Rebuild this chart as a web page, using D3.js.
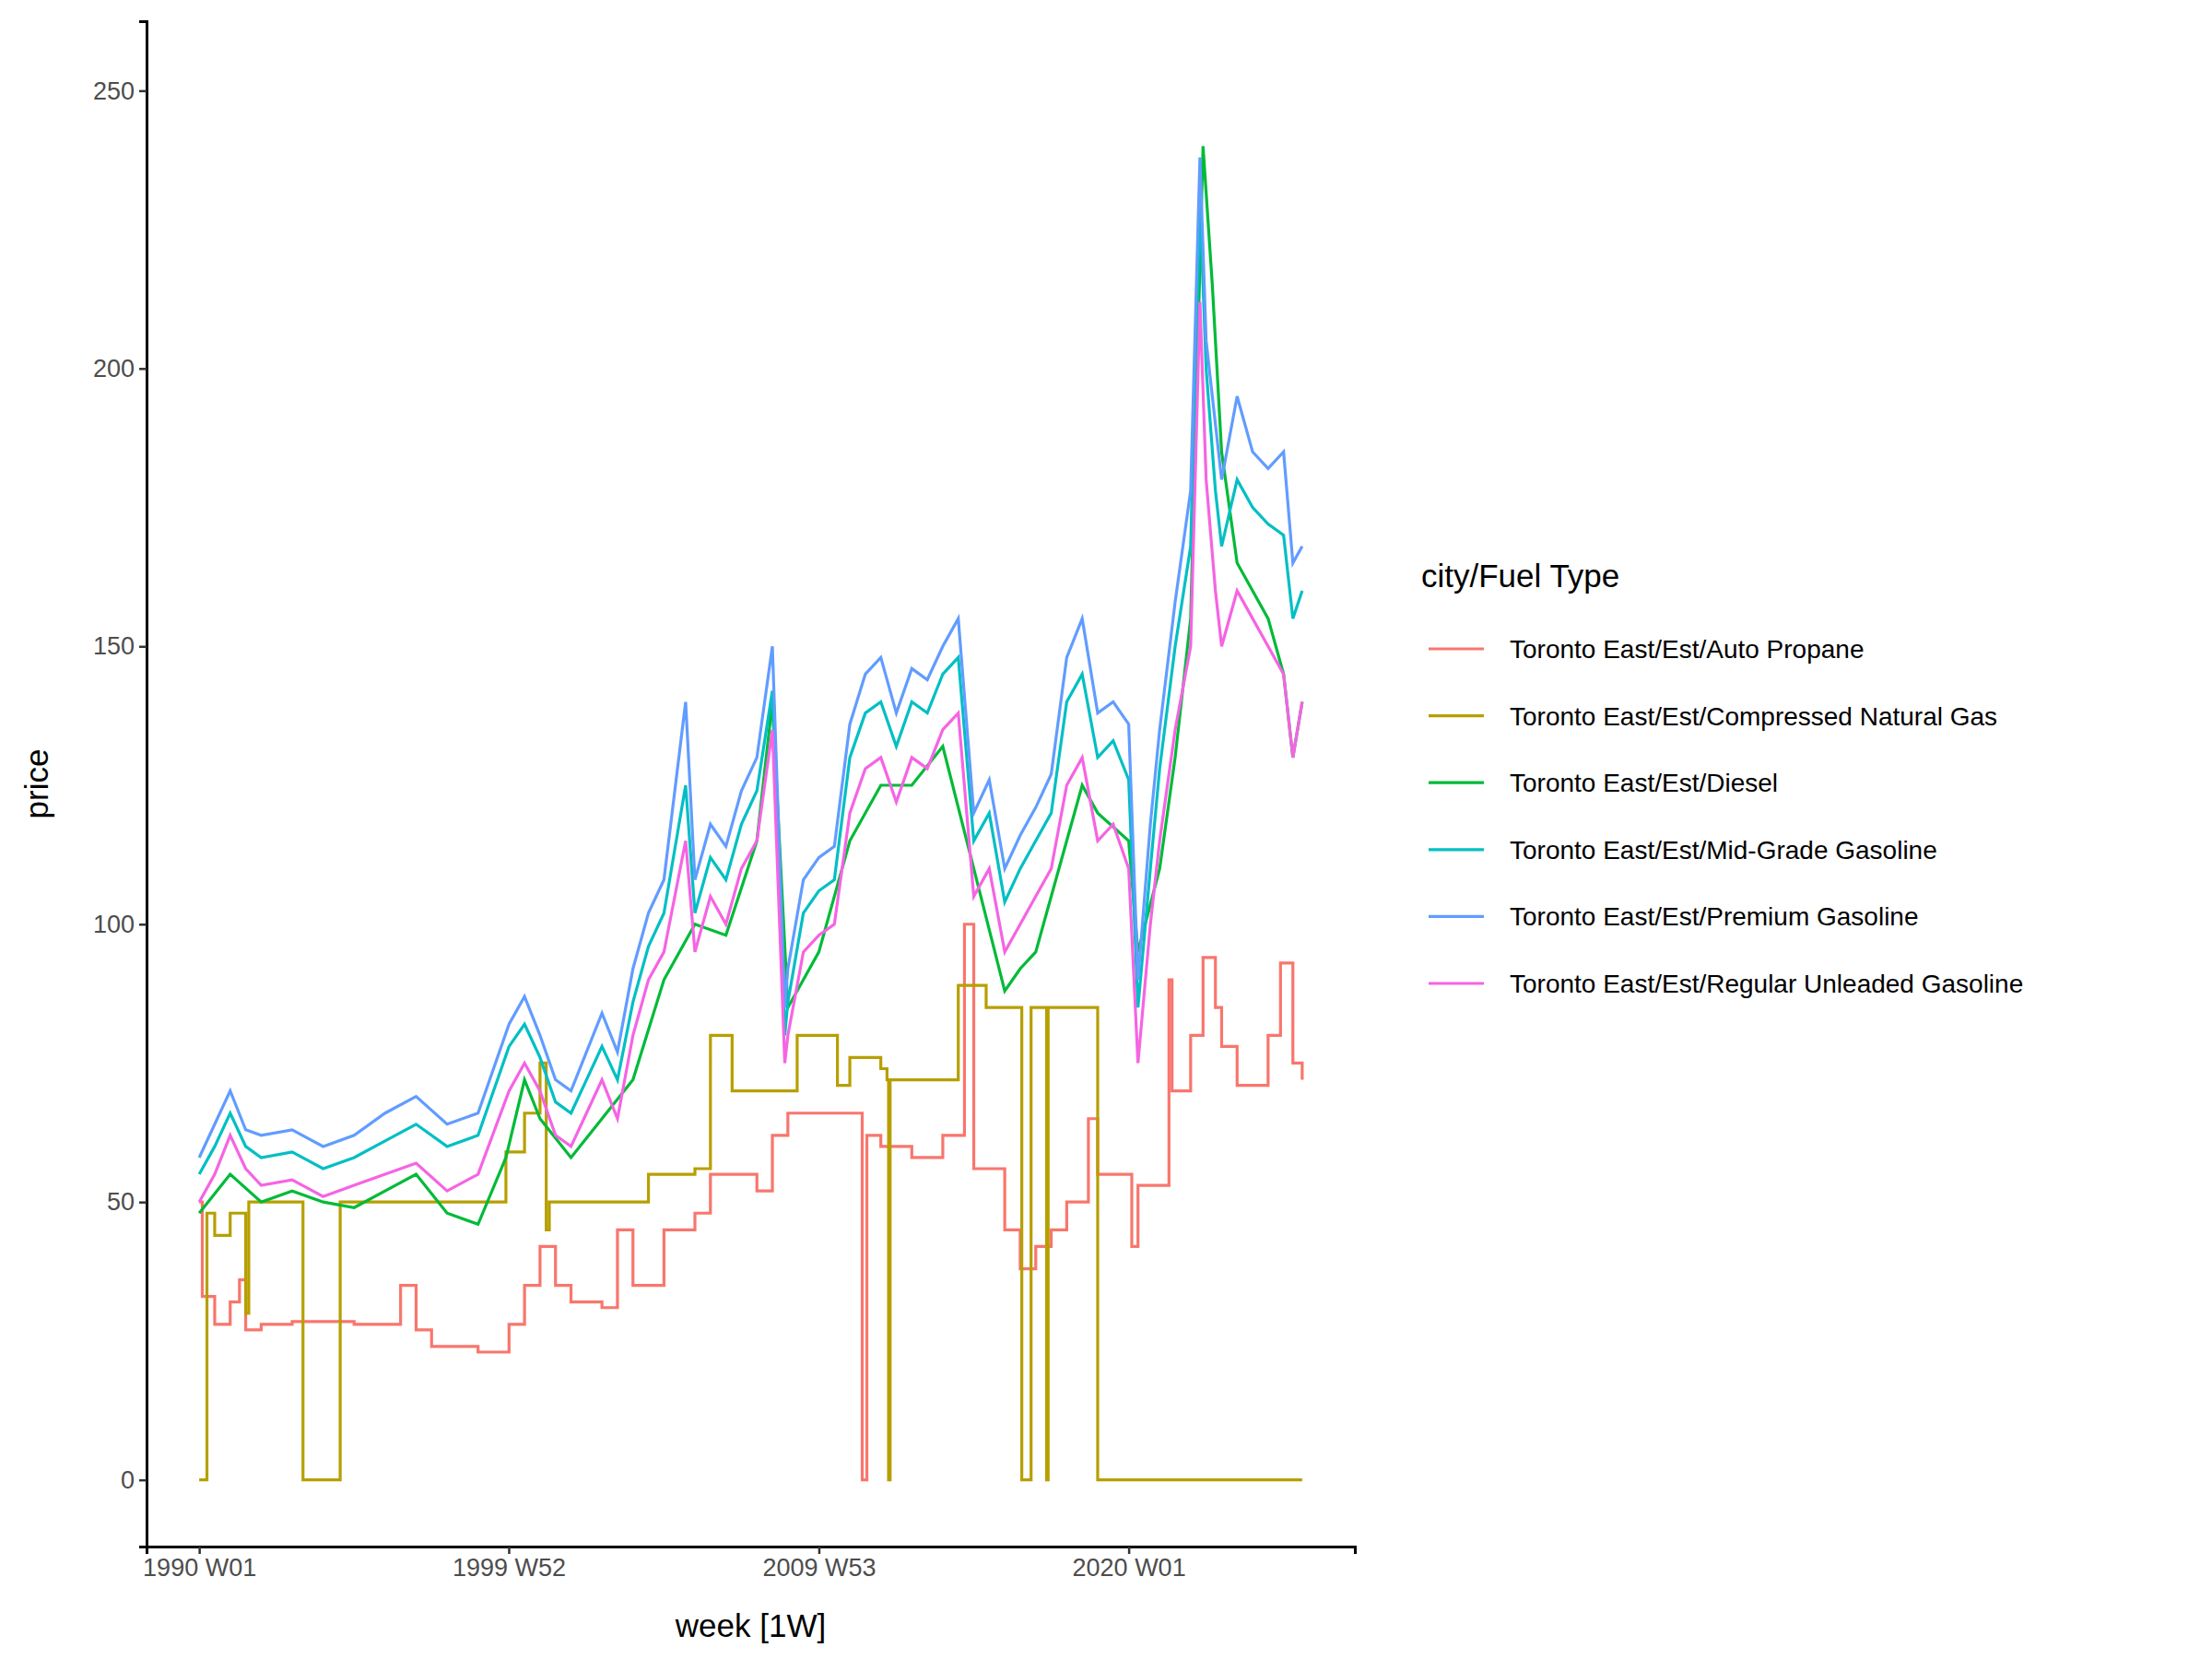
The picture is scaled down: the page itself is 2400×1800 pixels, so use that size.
<!DOCTYPE html><html><head><meta charset="utf-8">
<script src="https://cdn.jsdelivr.net/npm/d3@7"></script>
<style>body{margin:0;background:#fff}text{font-family:"Liberation Sans",Arial,sans-serif}</style></head><body>
<svg id="c" width="2400" height="1800"></svg>
<script>
const seriesNames=["Toronto East/Est/Auto Propane","Toronto East/Est/Compressed Natural Gas","Toronto East/Est/Diesel","Toronto East/Est/Mid-Grade Gasoline","Toronto East/Est/Premium Gasoline","Toronto East/Est/Regular Unleaded Gasoline"];
const colors=["#F8766D","#B79F00","#00BA38","#00BFC4","#619CFF","#F564E3"];
const xTicks=[1990,1999.99,2010,2020];
const xTickLabels=["1990 W01","1999 W52","2009 W53","2020 W01"];
const yTicks=[0,50,100,150,200,250];
const propane=[[1990,50],[1990.1,33],[1990.5,28],[1991,32],[1991.3,36],[1991.5,27],[1992,28],[1993,28.5],[1994,28.5],[1995,28],[1996,28],[1996.5,35],[1997,27],[1997.5,24],[1998,24],[1999,23],[2000,28],[2000.5,35],[2001,42],[2001.5,35],[2002,32],[2003,31],[2003.5,45],[2004,35],[2005,45],[2006,48],[2006.5,55],[2007,55],[2008,52],[2008.5,62],[2009,66],[2010,66],[2011.35,66],[2011.4,0],[2011.5,0],[2011.55,62],[2012,60],[2013,58],[2014,62],[2014.7,100],[2015,56],[2016,45],[2016.5,38],[2017,42],[2017.5,45],[2018,50],[2018.7,65],[2019,55],[2020,55],[2020.1,42],[2020.3,53],[2021,53],[2021.3,90],[2021.4,70],[2022,80],[2022.4,94],[2022.8,85],[2023,78],[2023.5,71],[2024,71],[2024.5,80],[2024.9,93],[2025.2,93],[2025.3,75],[2025.6,72]];
const cng=[[1990,0],[1990.2,0],[1990.25,48],[1990.5,44],[1991,48],[1991.5,30],[1991.6,50],[1993.3,50],[1993.35,0],[1994.5,0],[1994.55,50],[1999,50],[1999.9,59],[2000.5,66],[2001,75],[2001.2,45],[2001.3,50],[2004,50],[2004.5,55],[2006,56],[2006.5,80],[2007,80],[2007.2,70],[2009,70],[2009.3,80],[2010.5,80],[2010.6,71],[2011,76],[2012,74],[2012.2,72],[2012.25,0],[2012.3,72],[2014.4,72],[2014.5,89],[2015.3,89],[2015.4,85],[2016.5,85],[2016.55,0],[2016.8,0],[2016.85,85],[2017.3,85],[2017.35,0],[2017.4,85],[2018,85],[2019,0],[2025.6,0]];
const diesel=[[1990,48],[1991,55],[1992,50],[1993,52],[1994,50],[1995,49],[1996,52],[1997,55],[1998,48],[1999,46],[1999.9,58],[2000.5,72],[2001,65],[2002,58],[2003,65],[2004,72],[2005,90],[2006,100],[2007,98],[2008,115],[2008.5,140],[2009,85],[2009.5,90],[2010,95],[2011,115],[2012,125],[2013,125],[2014,132],[2015,110],[2016,88],[2016.5,92],[2017,95],[2018,115],[2018.5,125],[2019,120],[2020,115],[2020.3,95],[2021,110],[2021.5,130],[2022,155],[2022.4,240],[2022.7,215],[2023,185],[2023.5,165],[2024,160],[2024.5,155],[2025,145],[2025.3,130],[2025.6,140]];
const midgrade=[[1990,55],[1990.5,60],[1991,66],[1991.5,60],[1992,58],[1993,59],[1994,56],[1995,58],[1996,61],[1997,64],[1998,60],[1999,62],[2000,78],[2000.5,82],[2001,76],[2001.5,68],[2002,66],[2002.5,72],[2003,78],[2003.5,72],[2004,86],[2004.5,96],[2005,102],[2005.7,125],[2006,102],[2006.5,112],[2007,108],[2007.5,118],[2008,124],[2008.5,142],[2008.9,80],[2009,86],[2009.5,102],[2010,106],[2010.5,108],[2011,130],[2011.5,138],[2012,140],[2012.5,132],[2013,140],[2013.5,138],[2014,145],[2014.5,148],[2015,115],[2015.5,120],[2016,104],[2016.5,110],[2017,115],[2017.5,120],[2018,140],[2018.5,145],[2019,130],[2019.5,133],[2020,126],[2020.3,85],[2020.7,110],[2021,128],[2021.5,150],[2022,168],[2022.3,230],[2022.5,200],[2022.8,178],[2023,168],[2023.5,180],[2024,175],[2024.5,172],[2025,170],[2025.3,155],[2025.6,160]];
const premium=[[1990,58],[1990.5,64],[1991,70],[1991.5,63],[1992,62],[1993,63],[1994,60],[1995,62],[1996,66],[1997,69],[1998,64],[1999,66],[2000,82],[2000.5,87],[2001,80],[2001.5,72],[2002,70],[2002.5,77],[2003,84],[2003.5,77],[2004,92],[2004.5,102],[2005,108],[2005.7,140],[2006,108],[2006.5,118],[2007,114],[2007.5,124],[2008,130],[2008.5,150],[2008.9,85],[2009,92],[2009.5,108],[2010,112],[2010.5,114],[2011,136],[2011.5,145],[2012,148],[2012.5,138],[2013,146],[2013.5,144],[2014,150],[2014.5,155],[2015,120],[2015.5,126],[2016,110],[2016.5,116],[2017,121],[2017.5,127],[2018,148],[2018.5,155],[2019,138],[2019.5,140],[2020,136],[2020.3,90],[2020.7,118],[2021,135],[2021.5,158],[2022,178],[2022.3,238],[2022.5,205],[2022.8,190],[2023,180],[2023.5,195],[2024,185],[2024.5,182],[2025,185],[2025.3,165],[2025.6,168]];
const regular=[[1990,50],[1990.5,55],[1991,62],[1991.5,56],[1992,53],[1993,54],[1994,51],[1995,53],[1996,55],[1997,57],[1998,52],[1999,55],[2000,70],[2000.5,75],[2001,70],[2001.5,62],[2002,60],[2002.5,66],[2003,72],[2003.5,65],[2004,80],[2004.5,90],[2005,95],[2005.7,115],[2006,95],[2006.5,105],[2007,100],[2007.5,110],[2008,115],[2008.5,135],[2008.9,75],[2009,80],[2009.5,95],[2010,98],[2010.5,100],[2011,120],[2011.5,128],[2012,130],[2012.5,122],[2013,130],[2013.5,128],[2014,135],[2014.5,138],[2015,105],[2015.5,110],[2016,95],[2016.5,100],[2017,105],[2017.5,110],[2018,125],[2018.5,130],[2019,115],[2019.5,118],[2020,110],[2020.3,75],[2020.7,100],[2021,115],[2021.5,135],[2022,150],[2022.3,212],[2022.5,180],[2022.8,160],[2023,150],[2023.5,160],[2024,155],[2024.5,150],[2025,145],[2025.3,130],[2025.6,140]];
const data=[propane,cng,diesel,midgrade,premium,regular];

const svg=d3.select("#c");
const L=159,R=1470,T=23,B=1678;
const x=d3.scaleLinear().domain([1988.3,2027.3]).range([L,R]);
const y=d3.scaleLinear().domain([-12,262.5]).range([B,T]);
const line=d3.line().x(d=>x(d[0])).y(d=>y(d[1]));
data.forEach((s,i)=>{
  svg.append("path").datum(s).attr("d",line.curve(i<2?d3.curveStepAfter:d3.curveLinear)).attr("fill","none").attr("stroke",colors[i]).attr("stroke-width",3.2);
});
const xa=svg.append("g").attr("transform",`translate(0,${B})`).call(d3.axisBottom(x).tickValues(xTicks).tickFormat((d,i)=>xTickLabels[i]).tickSizeOuter(0).tickSize(8).tickPadding(5));
const ya=svg.append("g").attr("transform",`translate(${L},0)`).call(d3.axisLeft(y).tickValues(yTicks).tickSizeOuter(0).tickSize(8).tickPadding(5));
[xa,ya].forEach(a=>{a.selectAll("path").attr("stroke","#000").attr("stroke-width",3);a.selectAll("line").attr("stroke","#333").attr("stroke-width",2.5);a.selectAll("text").attr("font-size",27).attr("fill","#4d4d4d").attr("font-family","Liberation Sans, Arial");});
svg.append("text").attr("x",(L+R)/2).attr("y",1776).attr("text-anchor","middle").attr("font-size",35).text("week [1W]");
svg.append("text").attr("transform",`translate(52,${(T+B)/2}) rotate(-90)`).attr("text-anchor","middle").attr("font-size",35).text("price");
const lg=svg.append("g").attr("transform","translate(1542,0)");
lg.append("text").attr("x",0).attr("y",637).attr("font-size",35).text("city/Fuel Type");
seriesNames.forEach((n,i)=>{
  const yy=704+i*72.6;
  lg.append("line").attr("x1",8).attr("x2",68).attr("y1",yy).attr("y2",yy).attr("stroke",colors[i]).attr("stroke-width",3.2);
  lg.append("text").attr("x",96).attr("y",yy+10).attr("font-size",28).text(n);
});
</script></body></html>
